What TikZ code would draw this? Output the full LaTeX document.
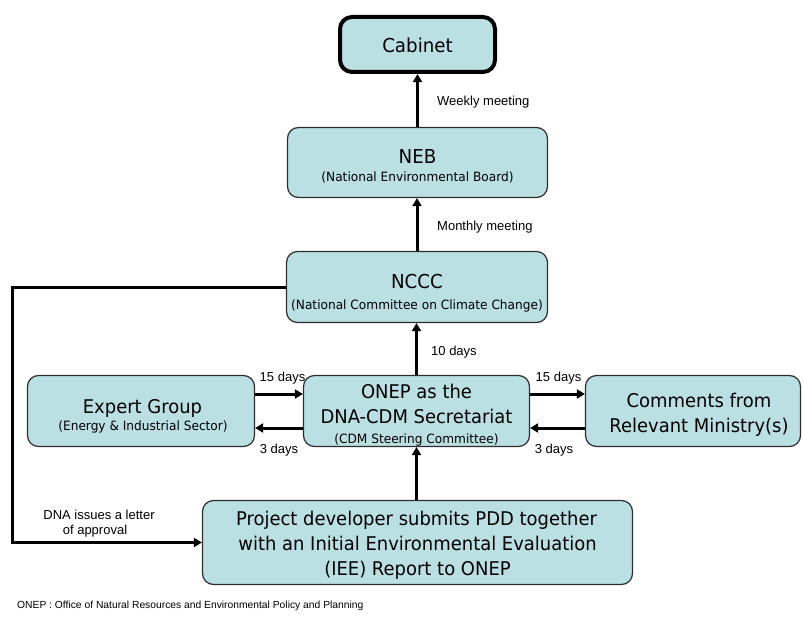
\documentclass[tikz,border=0pt]{standalone}
\usepackage{fontspec}
\setmainfont{Liberation Sans}
\newfontfamily\boxfont[FakeStretch=0.95]{DejaVu Sans}
\usetikzlibrary{arrows.meta}
\definecolor{boxfill}{RGB}{187,224,227}
\definecolor{boxline}{RGB}{45,45,45}
\tikzset{
 box/.style={draw=boxline, line width=1.2pt, fill=boxfill, rounded corners=11pt, inner sep=0pt},
 tbig/.style={font=\boxfont\fontsize{18.9}{22}\selectfont, anchor=base, inner sep=0pt},
 thuge/.style={font=\boxfont\fontsize{19.2}{24}\selectfont, anchor=base, inner sep=0pt},
 tsmall/.style={font=\boxfont\fontsize{12.8}{15}\selectfont, anchor=base, inner sep=0pt},
 lbl/.style={font=\fontsize{13}{15}\selectfont, anchor=base, inner sep=0pt},
 flow/.style={line width=3pt, -{Triangle[length=8pt,width=9pt]}},
}
\begin{document}
\begin{tikzpicture}[x=1pt,y=-1pt]
\useasboundingbox (0,0) rectangle (803,618);
% boxes
\node[box, line width=4pt, draw=black, rounded corners=12pt, minimum width=155pt, minimum height=55pt] (cab) at (417.5,44.5) {};
\node[box, minimum width=260pt, minimum height=70pt] (neb) at (417.5,162.5) {};
\node[box, minimum width=261pt, minimum height=71pt] (nccc) at (417,287) {};
\node[box, minimum width=227pt, minimum height=71pt] (exp) at (141,411) {};
\node[box, minimum width=226pt, minimum height=71pt] (onep) at (416.5,411) {};
\node[box, minimum width=215pt, minimum height=71pt] (com) at (693,411) {};
\node[box, minimum width=430pt, minimum height=84pt] (proj) at (417.5,542.5) {};
% box texts
\node[thuge] (cabT) at (417.5,52.8) {Cabinet};
\node[thuge] (nebT) at (417.5,163) {NEB};
\node[tsmall] (nebS) at (417.5,181.7) {(National Environmental Board)};
\node[thuge] (ncccT) at (417,288) {NCCC};
\node[tsmall] (ncccS) at (417,309) {(National Committee on Climate Change)};
\node[tbig] (onep1) at (416.5,398) {ONEP as the};
\node[tbig] (onep2) at (416.5,423) {DNA-CDM Secretariat};
\node[tsmall] (onep3) at (416.5,443) {(CDM Steering Committee)};
\node[tbig] (exp1) at (142.5,413) {Expert Group};
\node[tsmall] (exp2) at (143,430) {(Energy \& Industrial Sector)};
\node[tbig] (com1) at (699,407) {Comments from};
\node[tbig] (com2) at (699,432) {Relevant Ministry(s)};
\node[tbig] (pr1) at (416.5,525) {Project developer submits PDD together};
\node[tbig] (pr2) at (417.5,550) {with an Initial Environmental Evaluation};
\node[tbig] (pr3) at (417.5,575) {(IEE) Report to ONEP};
% connectors
\draw[flow] (neb.north) -- (cab.south);
\draw[flow] (nccc.north) -- (nccc.north |- neb.south);
\draw[flow] (onep.north) -- (onep.north |- nccc.south);
\draw[flow] (onep.south |- proj.north) -- (onep.south);
\draw[flow] ([yshift=17pt]exp.east) -- ([yshift=17pt]onep.west);
\draw[flow] ([yshift=-17pt]onep.west) -- ([yshift=-17pt]exp.east);
\draw[flow] ([yshift=17pt]onep.east) -- ([yshift=17pt]com.west);
\draw[flow] ([yshift=-17pt]com.west) -- ([yshift=-17pt]onep.east);
\coordinate (lft) at (12,287);
\draw[flow] (nccc.west) -- (lft) |- (proj.west);
% labels
\node[lbl, anchor=base west] (wk) at (437,105) {Weekly meeting};
\node[lbl, anchor=base west] (mo) at (437,230) {Monthly meeting};
\node[lbl, anchor=base west] (ten) at (431,355) {10 days};
\node[lbl] (d15a) at (282.5,381) {15 days};
\node[lbl] (d15b) at (558.5,381) {15 days};
\node[lbl] (d3a) at (279,453) {3 days};
\node[lbl] (d3b) at (554,453) {3 days};
\node[lbl] (dna1) at (99,519) {DNA issues a letter};
\node[lbl] (dna2) at (95,534) {of approval};
\node[lbl, font=\fontsize{10.3}{12}\selectfont, anchor=base west] (fn) at (17,608) {ONEP : Office of Natural Resources and Environmental Policy and Planning};
\end{tikzpicture}
\end{document}
